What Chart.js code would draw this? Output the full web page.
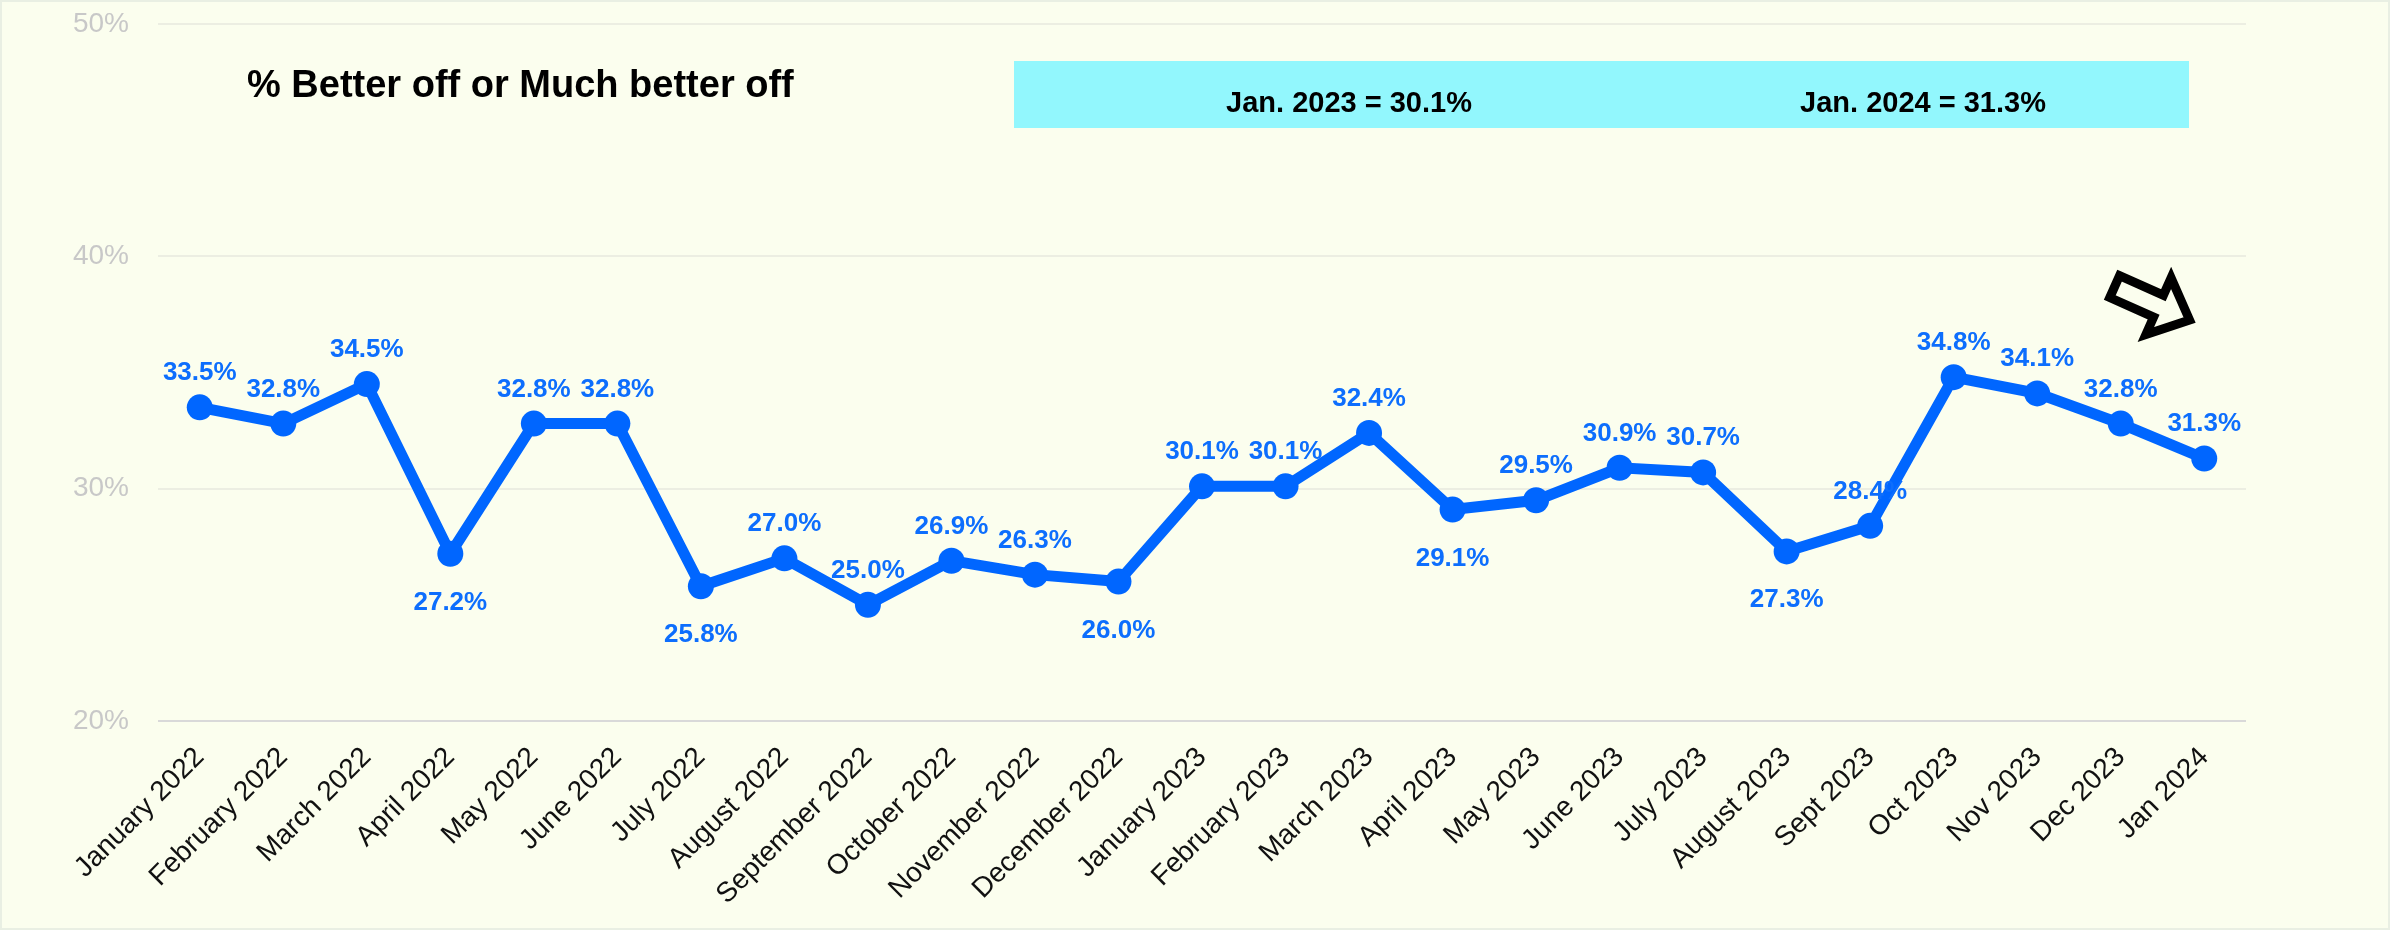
<!DOCTYPE html>
<html>
<head>
<meta charset="utf-8">
<script src="https://cdn.jsdelivr.net/npm/chart.js"></script>
<style>
    html, body { margin: 0; padding: 0; background: #fbfeee; }
    #wrap { width: 2390px; height: 930px; }
</style>
</head>
<body>
<div id="wrap"><canvas id="myChart" width="2390" height="930"></canvas></div>
<script>
var months = ['January 2022', 'February 2022', 'March 2022', 'April 2022', 'May 2022', 'June 2022',
    'July 2022', 'August 2022', 'September 2022', 'October 2022', 'November 2022', 'December 2022',
    'January 2023', 'February 2023', 'March 2023', 'April 2023', 'May 2023', 'June 2023',
    'July 2023', 'August 2023', 'Sept 2023', 'Oct 2023', 'Nov 2023', 'Dec 2023', 'Jan 2024'];
var pctBetterOff = [33.5, 32.8, 34.5, 27.2, 32.8, 32.8, 25.8, 27.0, 25.0, 26.9, 26.3, 26.0,
    30.1, 30.1, 32.4, 29.1, 29.5, 30.9, 30.7, 27.3, 28.4, 34.8, 34.1, 32.8, 31.3];
var yTicks = [20, 30, 40, 50];
var chartTitle = '% Better off or Much better off';
// indexes of the two months compared in the blue box
var compareIdx = [12, 24];
var compareNames = ['Jan. 2023', 'Jan. 2024'];
// points whose value label sits under the dot
var labelsBelow = [3, 6, 11, 15, 19];

var lineBlue = '#0066ff';
var bg = '#fbfeee';

var bgPlugin = {
    id: 'bgFill',
    beforeDraw: function (chart) {
        var ctx = chart.ctx;
        ctx.save();
        ctx.fillStyle = bg;
        ctx.fillRect(0, 0, chart.width, chart.height);
        ctx.strokeStyle = '#e9efe3';
        ctx.lineWidth = 2;
        ctx.strokeRect(1, 1, chart.width - 2, chart.height - 2);
        ctx.restore();
    }
};

var pointLabelPlugin = {
    id: 'pointLabels',
    afterDatasetsDraw: function (chart) {
        var ctx = chart.ctx;
        var meta = chart.getDatasetMeta(0);
        ctx.save();
        ctx.font = 'bold 26px "Liberation Sans", Arial, sans-serif';
        ctx.fillStyle = '#0d6efd';
        ctx.textAlign = 'center';
        ctx.textBaseline = 'alphabetic';
        meta.data.forEach(function (pt, i) {
            var txt = pctBetterOff[i].toFixed(1) + '%';
            var y = labelsBelow.indexOf(i) >= 0 ? pt.y + 56 : pt.y - 27;
            ctx.fillText(txt, pt.x, y);
        });
        ctx.restore();
    }
};

var headerPlugin = {
    id: 'header',
    afterDraw: function (chart) {
        var ctx = chart.ctx;
        ctx.save();
        // title
        ctx.fillStyle = '#000';
        ctx.font = 'bold 38px "Liberation Sans", Arial, sans-serif';
        ctx.textAlign = 'left';
        ctx.textBaseline = 'alphabetic';
        ctx.fillText(chartTitle, 247, 97);

        // comparison box
        ctx.fillStyle = '#92f7fd';
        ctx.fillRect(1014, 61, 1175, 67);
        ctx.fillStyle = '#000';
        ctx.font = 'bold 29px "Liberation Sans", Arial, sans-serif';
        ctx.textAlign = 'center';
        var centers = [1349, 1923];
        for (var i = 0; i < compareIdx.length; i++) {
            var v = pctBetterOff[compareIdx[i]].toFixed(1) + '%';
            ctx.fillText(compareNames[i] + ' = ' + v, centers[i], 112);
        }

        // outlined arrow pointing down to the last month
        ctx.translate(2111, 285);
        ctx.rotate(24 * Math.PI / 180);
        ctx.filter = 'blur(0.7px)';
        ctx.beginPath();
        ctx.moveTo(4, -12);
        ctx.lineTo(52, -12);
        ctx.lineTo(52, -31);
        ctx.lineTo(86, 0);
        ctx.lineTo(52, 31);
        ctx.lineTo(52, 12);
        ctx.lineTo(4, 12);
        ctx.closePath();
        ctx.strokeStyle = '#000';
        ctx.lineWidth = 9;
        ctx.lineJoin = 'miter';
        ctx.stroke();
        ctx.restore();
    }
};

var ctx = document.getElementById('myChart');
var myLineChart = new Chart(ctx, {
    type: 'line',
    data: {
        labels: months,
        datasets: [{
            data: pctBetterOff,
            borderColor: lineBlue,
            backgroundColor: lineBlue,
            borderWidth: 11,
            tension: 0,
            pointRadius: 13,
            pointHoverRadius: 13,
            pointBorderWidth: 0,
            pointBackgroundColor: lineBlue,
            fill: false
        }]
    },
    options: {
        responsive: false,
        animation: false,
        devicePixelRatio: 1,
        layout: { padding: { left: 0, right: 144, top: 24, bottom: 0 } },
        plugins: { legend: { display: false }, tooltip: { enabled: false } },
        scales: {
            x: {
                offset: true,
                grid: { display: false, drawTicks: false },
                border: { display: false },
                ticks: {
                    color: '#111',
                    font: { family: '"Liberation Sans", Arial, sans-serif', size: 28 },
                    minRotation: 45,
                    maxRotation: 45,
                    autoSkip: false,
                    padding: 20
                },
                afterFit: function (scale) { scale.height = 209; }
            },
            y: {
                min: yTicks[0],
                max: yTicks[yTicks.length - 1],
                afterBuildTicks: function (scale) {
                    scale.ticks = yTicks.map(function (v) { return { value: v }; });
                },
                grid: {
                    drawTicks: true,
                    tickLength: 29,
                    tickColor: 'rgba(0,0,0,0)',
                    lineWidth: 2,
                    color: function (c) { return c.tick && c.tick.value === 20 ? '#d9d9d9' : '#eceee2'; }
                },
                border: { display: false },
                ticks: {
                    color: '#c8c8c8',
                    padding: 0,
                    font: { family: '"Liberation Sans", Arial, sans-serif', size: 28 },
                    callback: function (v) { return v + '%'; }
                },
                afterFit: function (scale) { scale.width = 158; }
            }
        }
    },
    plugins: [bgPlugin, pointLabelPlugin, headerPlugin]
});
</script>
</body>
</html>
